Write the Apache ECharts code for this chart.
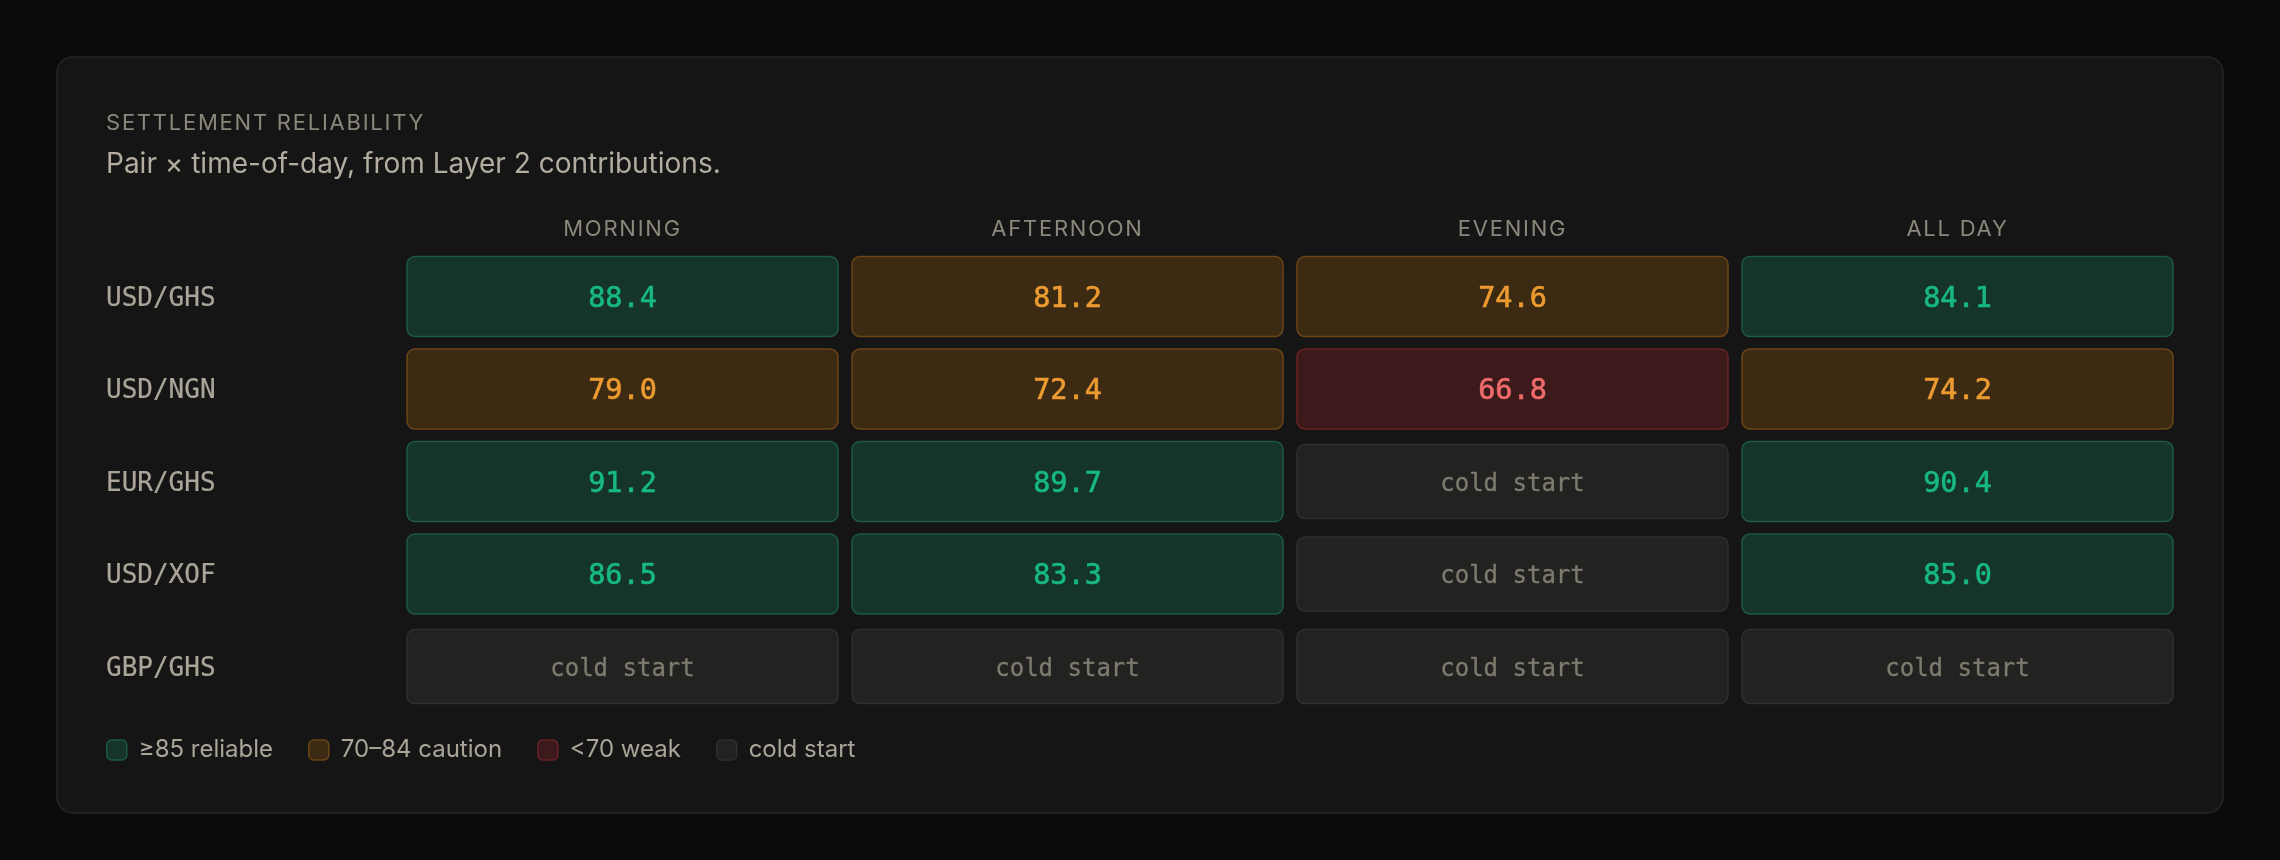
<!DOCTYPE html>
<html>
<head>
<meta charset="utf-8">
<style>
  html, body { margin: 0; padding: 0; background: #0b0b0b; }
  #chart { width: 2280px; height: 860px; }
</style>
<script src="https://cdn.jsdelivr.net/npm/echarts@6/dist/echarts.min.js"></script>
</head>
<body>
<div id="chart"></div>
<script>
// ---------- data ----------
const times = ['MORNING', 'AFTERNOON', 'EVENING', 'ALL DAY'];
const pairs = ['USD/GHS', 'USD/NGN', 'EUR/GHS', 'USD/XOF', 'GBP/GHS'];

const usdGhs = [88.4, 81.2, 74.6, 84.1];
const usdNgn = [79.0, 72.4, 66.8, 74.2];
const eurGhs = [91.2, 89.7, null, 90.4];
const usdXof = [86.5, 83.3, null, 85.0];
const gbpGhs = [null, null, null, null];

const tierUsdGhs = ['reliable', 'caution', 'caution', 'reliable'];
const tierUsdNgn = ['caution', 'caution', 'weak', 'caution'];
const tierEurGhs = ['reliable', 'reliable', 'cold', 'reliable'];
const tierUsdXof = ['reliable', 'reliable', 'cold', 'reliable'];
const tierGbpGhs = ['cold', 'cold', 'cold', 'cold'];

const legendNames = ['≥85 reliable', '70–84 caution', '<70 weak', 'cold start'];
const tierKeys = ['reliable', 'caution', 'weak', 'cold'];

// ---------- letter spacing helper for tracked uppercase text ----------
(function () {
  const P = CanvasRenderingContext2D.prototype;
  if (!('letterSpacing' in P)) return;
  const origFill = P.fillText, origMeasure = P.measureText, origStroke = P.strokeText;
  function apply(ctx) {
    const f = ctx.font || '';
    if (f.indexOf('Spaced') >= 0) {
      const m = f.match(/([\d.]+)px/);
      const s = m ? parseFloat(m[1]) : 20;
      ctx.letterSpacing = (s * 0.08).toFixed(2) + 'px';
    } else {
      ctx.letterSpacing = '0px';
    }
  }
  P.fillText = function () { apply(this); return origFill.apply(this, arguments); };
  P.strokeText = function () { apply(this); return origStroke.apply(this, arguments); };
  P.measureText = function () { apply(this); return origMeasure.apply(this, arguments); };
})();

// ---------- styles ----------
const STYLE = {
  reliable: { fill: '#15352b', stroke: '#1c5a44', text: '#17b884' },
  caution:  { fill: '#3c2a13', stroke: '#6b4517', text: '#ec9b31' },
  weak:     { fill: '#3c1a1b', stroke: '#6a2224', text: '#ef6b6b' },
  cold:     { fill: '#222221', stroke: '#2f2f2d', text: '#7f7a6e' }
};
const MONO = '"DejaVu Sans Mono", monospace';
const SANS = 'Inter, sans-serif';
const SPACED = 'Inter, Spaced';

// ---------- build series data from arrays ----------
const valueRows = [usdGhs, usdNgn, eurGhs, usdXof, gbpGhs];
const tierRows = [tierUsdGhs, tierUsdNgn, tierEurGhs, tierUsdXof, tierGbpGhs];
const seriesData = { reliable: [], caution: [], weak: [], cold: [] };
valueRows.forEach(function (row, r) {
  row.forEach(function (v, c) {
    const t = tierRows[r][c];
    seriesData[t].push(t === 'cold' ? [c, r, '-'] : [c, r, v]);
  });
});

function makeRender(tier) {
  const st = STYLE[tier];
  const cold = tier === 'cold';
  return function (params, api) {
    const p = api.coord([api.value(0), api.value(1)]);
    const bw = api.size([1, 0])[0];
    const bh = api.size([0, 1])[1];
    const w = bw - 14;
    const h = cold ? bh - 18.5 : bh - 12.5;
    const label = cold ? 'cold start' : api.value(2).toFixed(1);
    return {
      type: 'group',
      children: [
        {
          type: 'rect',
          shape: { x: p[0] - w / 2, y: p[1] - h / 2, width: w, height: h, r: 8 },
          style: { fill: st.fill, stroke: st.stroke, lineWidth: 1.5 }
        },
        {
          type: 'text',
          x: p[0], y: p[1] + 3,
          style: {
            text: label,
            fill: st.text,
            stroke: st.text,
            lineWidth: cold ? 0.3 : 0.6,
            fontFamily: MONO,
            fontSize: cold ? 24 : 28.5,
            align: 'center',
            verticalAlign: 'middle'
          }
        }
      ]
    };
  };
}

const series = tierKeys.map(function (t, i) {
  return {
    type: 'custom',
    name: legendNames[i],
    coordinateSystem: 'cartesian2d',
    renderItem: makeRender(t),
    encode: { x: 0, y: 1 },
    itemStyle: { color: STYLE[t].fill, borderColor: STYLE[t].stroke, borderWidth: 1.5 },
    data: seriesData[t],
    silent: true
  };
});

const chart = echarts.init(document.getElementById('chart'), null, { renderer: 'canvas' });
chart.setOption({
  backgroundColor: '#0b0b0b',
  animation: false,
  graphic: [
    {
      type: 'rect', silent: true, z: -100,
      shape: { x: 57, y: 57, width: 2166, height: 756, r: 16 },
      style: { fill: '#151515', stroke: '#262626', lineWidth: 1.5 }
    }
  ],
  title: {
    text: 'SETTLEMENT RELIABILITY',
    subtext: 'Pair × time-of-day, from Layer 2 contributions.',
    left: 106,
    top: 112.5,
    padding: 0,
    itemGap: 14.5,
    textStyle: { fontFamily: SPACED, fontSize: 22, lineHeight: 22, fontWeight: 'normal', color: '#8b877b' },
    subtextStyle: { fontFamily: SANS, fontSize: 28, lineHeight: 28, color: '#b2ada0' }
  },
  legend: {
    left: 106,
    top: 738,
    padding: 0,
    itemWidth: 20,
    itemHeight: 20,
    itemGap: 35,
    selectedMode: false,
    textStyle: { fontFamily: SANS, fontSize: 24, color: '#aaa598', padding: [0, 0, 0, 7] },
    data: tierKeys.map(function (t, i) {
      return {
        name: legendNames[i],
        icon: 'roundRect',
        itemStyle: { color: STYLE[t].fill, borderColor: STYLE[t].stroke, borderWidth: 1.5 }
      };
    })
  },
  grid: { left: 400, top: 250.25, width: 1780, height: 462.5, containLabel: false },
  xAxis: {
    type: 'category',
    position: 'top',
    data: times,
    axisLine: { show: false },
    axisTick: { show: false },
    splitLine: { show: false },
    axisLabel: { fontFamily: SPACED, fontSize: 22, lineHeight: 22, color: '#8b877b', margin: 9.5 }
  },
  yAxis: {
    type: 'category',
    inverse: true,
    data: pairs,
    axisLine: { show: false },
    axisTick: { show: false },
    splitLine: { show: false },
    axisLabel: {
      fontFamily: MONO, fontSize: 26, color: '#aaa598', align: 'left', margin: 294,
      verticalAlign: 'top', lineHeight: 5,
      textBorderColor: '#aaa598', textBorderWidth: 0.2
    }
  },
  series: series
});
</script>
</body>
</html>
